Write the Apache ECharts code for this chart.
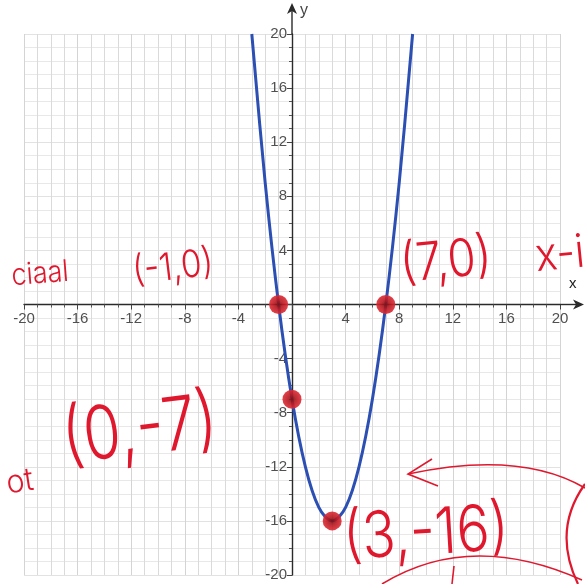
<!DOCTYPE html>
<html>
<head>
<meta charset="utf-8">
<script src="https://cdn.jsdelivr.net/npm/echarts@6/dist/echarts.min.js"></script>
<style>
  html, body { margin: 0; padding: 0; background: #ffffff; }
  #chart { width: 585px; height: 584px; }
</style>
</head>
<body>
<div id="chart"></div>
<script>
// Parabola y = x^2 - 6x - 7, points taken at whole x values
const curveX = [-3, -2, -1, 0, 1, 2, 3, 4, 5, 6, 7, 8, 9];
const curveY = [20, 9, 0, -7, -12, -15, -16, -15, -12, -7, 0, 9, 20];

// Marked points: the two x-intercepts, the y-intercept and the vertex
const markX = [-1, 7, 0, 3];
const markY = [0, 0, -7, -16];

// Both axes run over the same range, labelled every 4
const axisMin = -20;
const axisMax = 20;
const labelStep = 4;

const penRed = '#e0182e';
const handFont = 'Inter, "DejaVu Sans", sans-serif';

// Plot area in pixels
const W = 585, H = 584;
const gridBox = { left: 24, right: 25, top: 34, bottom: 9 };
const plotW = W - gridBox.left - gridBox.right;
const plotH = H - gridBox.top - gridBox.bottom;
// Axes cross at the origin: shift each axis from its edge to the middle of the range
const frac = (0 - axisMin) / (axisMax - axisMin);
const xAxisShift = -(plotH * frac);
const yAxisShift = -(plotW * frac);

const chart = echarts.init(document.getElementById('chart'), null, { renderer: 'canvas' });

function makeAxis(isX) {
  return {
    type: 'value',
    position: isX ? 'bottom' : 'left',
    offset: isX ? xAxisShift : yAxisShift,
    min: axisMin,
    max: axisMax,
    interval: labelStep,
    axisLine: { show: true, onZero: false, lineStyle: { color: '#2a2a2a', width: 1.4 } },
    axisTick: { show: true, length: 5, lineStyle: { color: '#444', width: 1 } },
    minorTick: { show: true, splitNumber: labelStep, length: 3, lineStyle: { color: '#555', width: 1 } },
    axisLabel: {
      color: '#505050',
      fontSize: 15,
      fontFamily: '"Liberation Sans", Arial, sans-serif',
      margin: isX ? 7 : 5,
      formatter: v => (v === 0 ? '' : String(v))
    },
    splitLine: { show: true, lineStyle: { color: isX ? '#d4d4d4' : '#e2e2e2', width: 1 } },
    minorSplitLine: { show: true, lineStyle: { color: isX ? '#dadada' : '#e8e8e8', width: 1 } },
    z: 2
  };
}

const curveData = curveX.map((x, i) => [x, curveY[i]]);
const markData = markX.map((x, i) => [x, markY[i]]);

chart.setOption({
  animation: false,
  backgroundColor: '#ffffff',
  grid: Object.assign({ containLabel: false, outerBoundsMode: 'none' }, gridBox),
  xAxis: makeAxis(true),
  yAxis: makeAxis(false),
  series: [
    {
      type: 'line',
      data: curveData,
      smooth: 0.35,
      showSymbol: false,
      lineStyle: { color: '#2b4fb2', width: 3 },
      z: 5
    },
    {
      type: 'scatter',
      data: markData,
      symbolSize: 19,
      itemStyle: {
        color: {
          type: 'radial', x: 0.5, y: 0.5, r: 0.5,
          colorStops: [
            { offset: 0, color: '#7a1010' },
            { offset: 0.45, color: '#b81820' },
            { offset: 1, color: '#e02a34' }
          ]
        },
        opacity: 0.9
      },
      z: 6
    }
  ]
});

// Axis extensions with arrow heads, and the axis names
const origin = chart.convertToPixel({ gridIndex: 0 }, [0, 0]);
const xEnd = chart.convertToPixel({ gridIndex: 0 }, [axisMax, 0]);
const yEnd = chart.convertToPixel({ gridIndex: 0 }, [0, axisMax]);
const axisInk = '#2a2a2a';

const graphics = [
  { type: 'line', shape: { x1: xEnd[0], y1: origin[1], x2: 580, y2: origin[1] }, style: { stroke: axisInk, lineWidth: 1.4 }, z: 10 },
  { type: 'polygon', shape: { points: [[584, origin[1]], [573, origin[1] - 5], [576, origin[1]], [573, origin[1] + 5]] }, style: { fill: axisInk }, z: 10 },
  { type: 'line', shape: { x1: origin[0], y1: yEnd[1], x2: origin[0], y2: 8 }, style: { stroke: axisInk, lineWidth: 1.4 }, z: 10 },
  { type: 'polygon', shape: { points: [[origin[0], 3], [origin[0] - 5, 14], [origin[0], 11], [origin[0] + 5, 14]] }, style: { fill: axisInk }, z: 10 },
  { type: 'text', x: origin[0] + 8, y: 3, style: { text: 'y', fill: '#444', font: '16px "Liberation Sans", Arial, sans-serif' }, z: 10 },
  { type: 'text', x: 569, y: 276, style: { text: 'x', fill: '#222', font: '15px "Liberation Sans", Arial, sans-serif' }, z: 10 }
];

// Handwritten notes in red pen
function note(text, x, y, size, rot, sx) {
  return {
    type: 'text', x: x, y: y, rotation: rot || 0, scaleX: sx || 1,
    style: {
      text: text, fill: penRed,
      font: '300 ' + size + 'px ' + handFont,
      align: 'center', verticalAlign: 'middle'
    },
    z: 20
  };
}
graphics.push(
  note('ciaal', 40, 274, 30, 0.08, 0.9),
  note('(-1,0)', 173, 268, 38, 0.12, 0.88),
  note('(7,0)', 446, 262, 52, 0.1, 0.88),
  note('x-i', 560, 255, 46, 0.1, 0.9),
  note('(0,-7)', 140, 432, 74, 0.12, 0.82),
  note('ot', 20, 482, 32, 0.15, 0.95),
  note('(3,-16)', 426, 535, 64, 0.06, 0.86)
);

// Pen strokes: arrow towards the vertex, loop at the bottom, bracket at the edge
const pen = { stroke: penRed, lineWidth: 1.6, fill: null };
graphics.push(
  { type: 'bezierCurve', shape: { x1: 585, y1: 488, cpx1: 520, cpy1: 450, x2: 408, y2: 474 }, style: pen, z: 20 },
  { type: 'polyline', shape: { points: [[432, 459], [408, 474], [438, 486]] }, style: pen, z: 20 },
  { type: 'bezierCurve', shape: { x1: 382, y1: 584, cpx1: 470, cpy1: 530, x2: 582, y2: 580 }, style: pen, z: 20 },
  { type: 'bezierCurve', shape: { x1: 585, y1: 484, cpx1: 552, cpy1: 530, x2: 578, y2: 584 }, style: { stroke: penRed, lineWidth: 2.2, fill: null }, z: 20 },
  { type: 'line', shape: { x1: 454, y1: 566, x2: 452, y2: 584 }, style: pen, z: 20 }
);

chart.setOption({ graphic: graphics });
</script>
</body>
</html>
